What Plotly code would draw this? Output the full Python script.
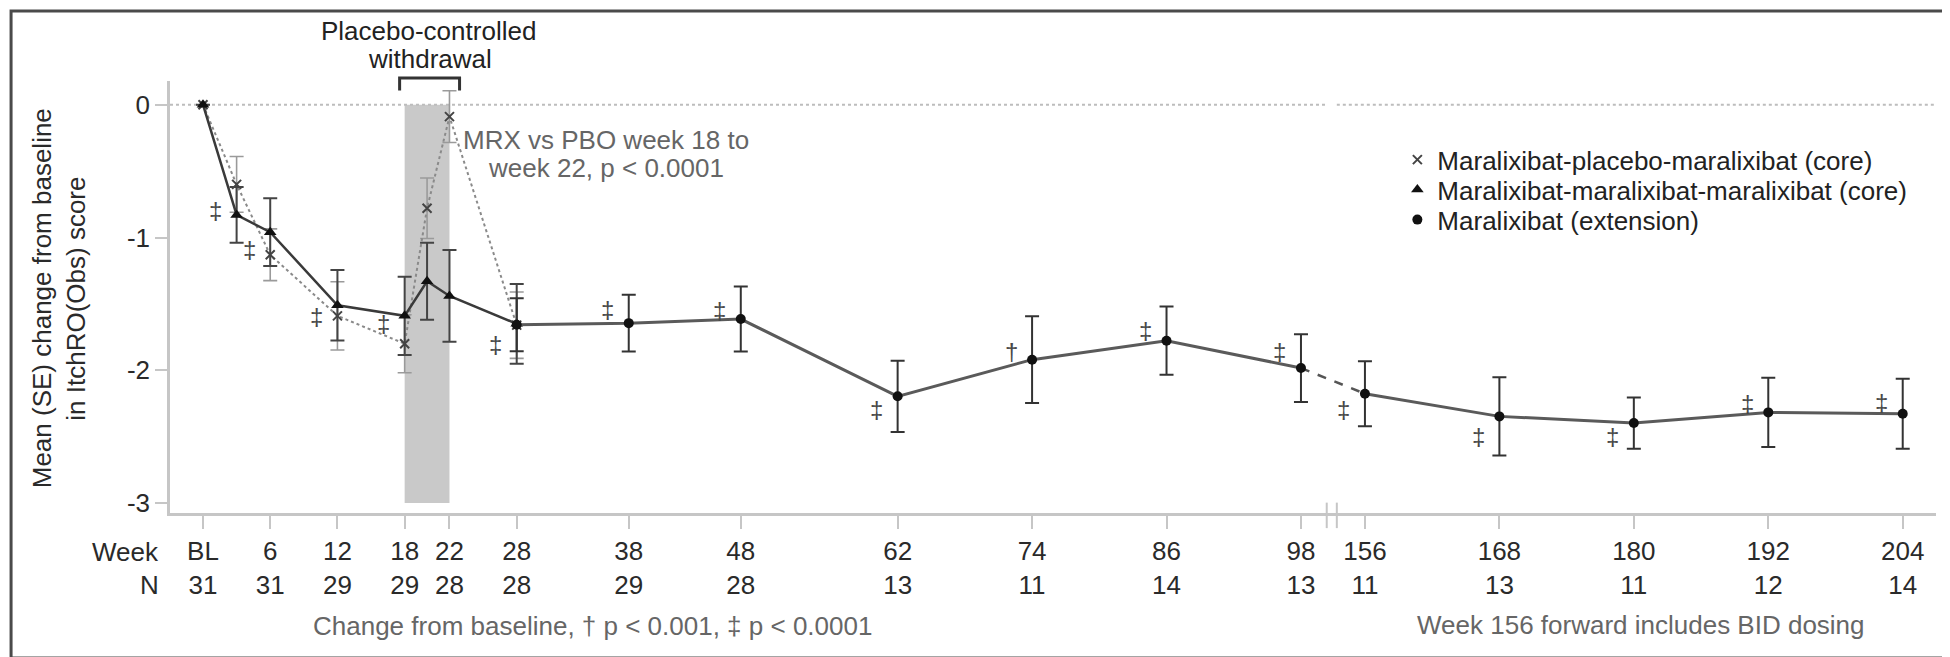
import plotly.graph_objects as go

# ---------------- data ----------------
tick_weeks = [0, 6, 12, 18, 22, 28, 38, 48, 62, 74, 86, 98, 156, 168, 180, 192, 204]
tick_labels = ["BL", "6", "12", "18", "22", "28", "38", "48", "62", "74", "86", "98",
               "156", "168", "180", "192", "204"]
n_patients = [31, 31, 29, 29, 28, 28, 29, 28, 13, 11, 14, 13, 11, 13, 11, 12, 14]

mpm_weeks = [0, 3, 6, 12, 18, 20, 22, 28]
mpm_mean = [0.0, -0.60, -1.13, -1.59, -1.80, -0.78, -0.09, -1.66]
mpm_se = [0.0, 0.21, 0.195, 0.257, 0.218, 0.228, 0.195, 0.25]

mmm_weeks = [0, 3, 6, 12, 18, 20, 22, 28]
mmm_mean = [0.0, -0.83, -0.96, -1.51, -1.59, -1.33, -1.44, -1.65]
mmm_se = [0.0, 0.21, 0.255, 0.265, 0.295, 0.29, 0.345, 0.30]

ext_weeks = [28, 38, 48, 62, 74, 86, 98, 156, 168, 180, 192, 204]
ext_mean = [-1.657, -1.645, -1.614, -2.196, -1.92, -1.777, -1.983,
            -2.176, -2.347, -2.397, -2.317, -2.327]
ext_se = [0.20, 0.213, 0.245, 0.268, 0.327, 0.257, 0.255,
          0.245, 0.295, 0.193, 0.261, 0.263]

sig_weeks = [3, 6, 12, 18, 28, 38, 48, 62, 74, 86, 98, 156, 168, 180, 192, 204]
sig_marks = ["‡", "‡", "‡", "‡", "‡", "‡", "‡", "‡", "†", "‡", "‡", "‡", "‡", "‡", "‡", "‡"]

withdrawal_weeks = [18, 22]
y_ticks = [0, -1, -2, -3]
y_tick_labels = ["0", "-1", "-2", "-3"]

names = ["Maralixibat-placebo-maralixibat (core)",
         "Maralixibat-maralixibat-maralixibat (core)",
         "Maralixibat (extension)"]

# ---------------- style ----------------
sig_dy = [11, 6, 6, -6, 20, -14, -9, 13, -8, -10, -17, 16, 20, 13, -9, -11]  # px, + = below
FONT = "Liberation Sans, Arial, sans-serif"
FS = 26
AXIS_GRAY = "#c6c6c6"

# broken axis: weeks 98..156 compressed
BREAK_LO, BREAK_HI, BREAK_GAP = 98, 156, 5.71


def to_axis(w):
    return w if w <= BREAK_LO else w - (BREAK_HI - BREAK_LO) + BREAK_GAP


fig = go.Figure()

# withdrawal shading
fig.add_shape(type="rect", xref="x", yref="y",
              x0=to_axis(withdrawal_weeks[0]), x1=to_axis(withdrawal_weeks[1]),
              y0=y_ticks[-1], y1=y_ticks[0],
              fillcolor="#c9c9c9", line_width=0, layer="below")

# bracket above withdrawal
bx0, bx1 = to_axis(withdrawal_weeks[0]) - 0.45, to_axis(withdrawal_weeks[1]) + 0.9
fig.add_shape(type="path", xref="x", yref="paper",
              path=f"M {bx0},0.978 L {bx0},1.007 L {bx1},1.007 L {bx1},0.978",
              line=dict(color="#333333", width=3))

# zero reference line (dotted), interrupted at the break
bm1, bm2 = BREAK_LO + 2.3, BREAK_LO + 3.2
fig.add_shape(type="line", xref="x", yref="y", x0=-2.945, x1=bm1, y0=0, y1=0,
              line=dict(color="#bdbdbd", width=2, dash="dot"), layer="below")
fig.add_shape(type="line", xref="x", yref="y", x0=bm2, x1=154.68, y0=0, y1=0,
              line=dict(color="#bdbdbd", width=2, dash="dot"), layer="below")
# axis break marks
for bx in (bm1, bm2):
    fig.add_shape(type="line", xref="x", yref="paper", x0=bx, x1=bx, y0=-0.035, y1=0.024,
                  line=dict(color=AXIS_GRAY, width=2))

# MPM (dotted)
fig.add_trace(go.Scatter(
    x=[to_axis(w) for w in mpm_weeks], y=mpm_mean, mode="lines+markers",
    line=dict(color="#8a8a8a", width=2, dash="dot"),
    marker=dict(symbol="x-thin", size=9, line=dict(color="#444444", width=2), color="#444444"),
    error_y=dict(type="data", array=mpm_se, visible=True, color="#9a9a9a", thickness=1.6, width=7),
    showlegend=False, cliponaxis=False))

# MMM (solid, triangles)
fig.add_trace(go.Scatter(
    x=[to_axis(w) for w in mmm_weeks], y=mmm_mean, mode="lines+markers",
    line=dict(color="#3a3a3a", width=2.5),
    marker=dict(symbol="triangle-up", size=11, color="#111111"),
    error_y=dict(type="data", array=mmm_se, visible=True, color="#444444", thickness=2, width=7),
    showlegend=False, cliponaxis=False))

# extension: dashed connector across the break
fig.add_trace(go.Scatter(
    x=[to_axis(ext_weeks[6]), to_axis(ext_weeks[7])], y=[ext_mean[6], ext_mean[7]],
    mode="lines", line=dict(color="#555555", width=2.5, dash="dash"),
    showlegend=False, hoverinfo="skip"))

for sl in (slice(0, 7), slice(7, None)):
    fig.add_trace(go.Scatter(
        x=[to_axis(w) for w in ext_weeks[sl]], y=ext_mean[sl], mode="lines+markers",
        line=dict(color="#5a5a5a", width=3),
        marker=dict(symbol="circle", size=10, color="#111111"),
        error_y=dict(type="data", array=ext_se[sl], visible=True, color="#333333",
                     thickness=2, width=7),
        showlegend=False, cliponaxis=False))

# legend proxies (one legend per row for exact row spacing)
legend_markers = [
    dict(symbol="x-thin", size=9, color="#444444", line=dict(color="#444444", width=2)),
    dict(symbol="triangle-up", size=11, color="#111111"),
    dict(symbol="circle", size=10, color="#111111"),
]
legend_ids = ["legend", "legend2", "legend3"]
for nm, mk, lg in zip(names, legend_markers, legend_ids):
    fig.add_trace(go.Scatter(x=[None], y=[None], mode="markers", name=nm, marker=mk,
                             legend=lg, showlegend=True))

# significance markers
def anchor_value(w):
    if w in ext_weeks:
        return ext_mean[ext_weeks.index(w)]
    return (mpm_mean[mpm_weeks.index(w)] + mmm_mean[mmm_weeks.index(w)]) / 2


for w, m, dy in zip(sig_weeks, sig_marks, sig_dy):
    fig.add_annotation(x=to_axis(w), y=anchor_value(w), xref="x", yref="y", text=m,
                       showarrow=False, xshift=-21, yshift=-dy,
                       font=dict(family=FONT, size=24, color="#484848"))

ann = [
    dict(text="Placebo-controlled", x=0.1461, y=1.115, color="#222222", xa="center"),
    dict(text="withdrawal", x=0.1472, y=1.0516, color="#222222", xa="center"),
    dict(text="MRX vs PBO week 18 to", x=0.2469, y=0.864, color="#666666", xa="center"),
    dict(text="week 22, p < 0.0001", x=0.2469, y=0.7986, color="#666666", xa="center"),
    dict(text="Week", x=-0.005, y=-0.0903, color="#2a2a2a", xa="right"),
    dict(text="N", x=-0.005, y=-0.166, color="#2a2a2a", xa="right"),
    dict(text="Change from baseline, † p < 0.001, ‡ p < 0.0001", x=0.2395, y=-0.2616,
         color="#666666", xa="center"),
    dict(text="Week 156 forward includes BID dosing", x=0.833, y=-0.2586,
         color="#666666", xa="center"),
]
for a in ann:
    fig.add_annotation(text=a["text"], x=a["x"], y=a["y"], xref="paper", yref="paper",
                       xanchor=a["xa"], yanchor="middle", showarrow=False,
                       font=dict(family=FONT, size=FS, color=a["color"]))

# y-axis title (two lines)
for txt, xp in (("Mean (SE) change from baseline", -0.0725), ("in ItchRO(Obs) score", -0.053)):
    fig.add_annotation(text=txt, x=xp, y=0.497, xref="paper", yref="paper", textangle=-90,
                       xanchor="center", yanchor="middle", showarrow=False,
                       font=dict(family=FONT, size=FS, color="#2a2a2a"))

# frame around the whole picture
fig.add_shape(type="rect", xref="paper", yref="paper",
              x0=-0.0900, x1=1.0068, y0=-0.3356, y1=1.1620,
              line=dict(color="#4a4a4a", width=3))

legend_common = dict(x=0.695, xanchor="left", yanchor="middle",
                     font=dict(family=FONT, size=FS, color="#222222"),
                     bgcolor="rgba(0,0,0,0)", itemwidth=30)
fig.update_layout(
    width=1950, height=657,
    margin=dict(l=162, r=22, t=73, b=152),
    paper_bgcolor="white", plot_bgcolor="white",
    font=dict(family=FONT, size=FS, color="#2a2a2a"),
    showlegend=True,
    legend=dict(y=0.8178, **legend_common),
    legend2=dict(y=0.7484, **legend_common),
    legend3=dict(y=0.6789, **legend_common),
    xaxis=dict(range=[-2.945, 154.68],
               tickvals=[to_axis(w) for w in tick_weeks],
               ticktext=[f"{lab}<br>{n}" for lab, n in zip(tick_labels, n_patients)],
               ticks="outside", ticklen=13, tickwidth=2, tickcolor=AXIS_GRAY,
               showline=True, linecolor=AXIS_GRAY, linewidth=2.5,
               showgrid=False, zeroline=False,
               tickfont=dict(family=FONT, size=FS, color="#2a2a2a")),
    yaxis=dict(range=[-3.0746, 0.1785],
               tickvals=y_ticks, ticktext=y_tick_labels,
               ticks="outside", ticklen=12, tickwidth=2, tickcolor=AXIS_GRAY,
               showline=True, linecolor=AXIS_GRAY, linewidth=2.5,
               showgrid=False, zeroline=False,
               tickfont=dict(family=FONT, size=FS, color="#2a2a2a")),
)

fig.write_html("out.html")
